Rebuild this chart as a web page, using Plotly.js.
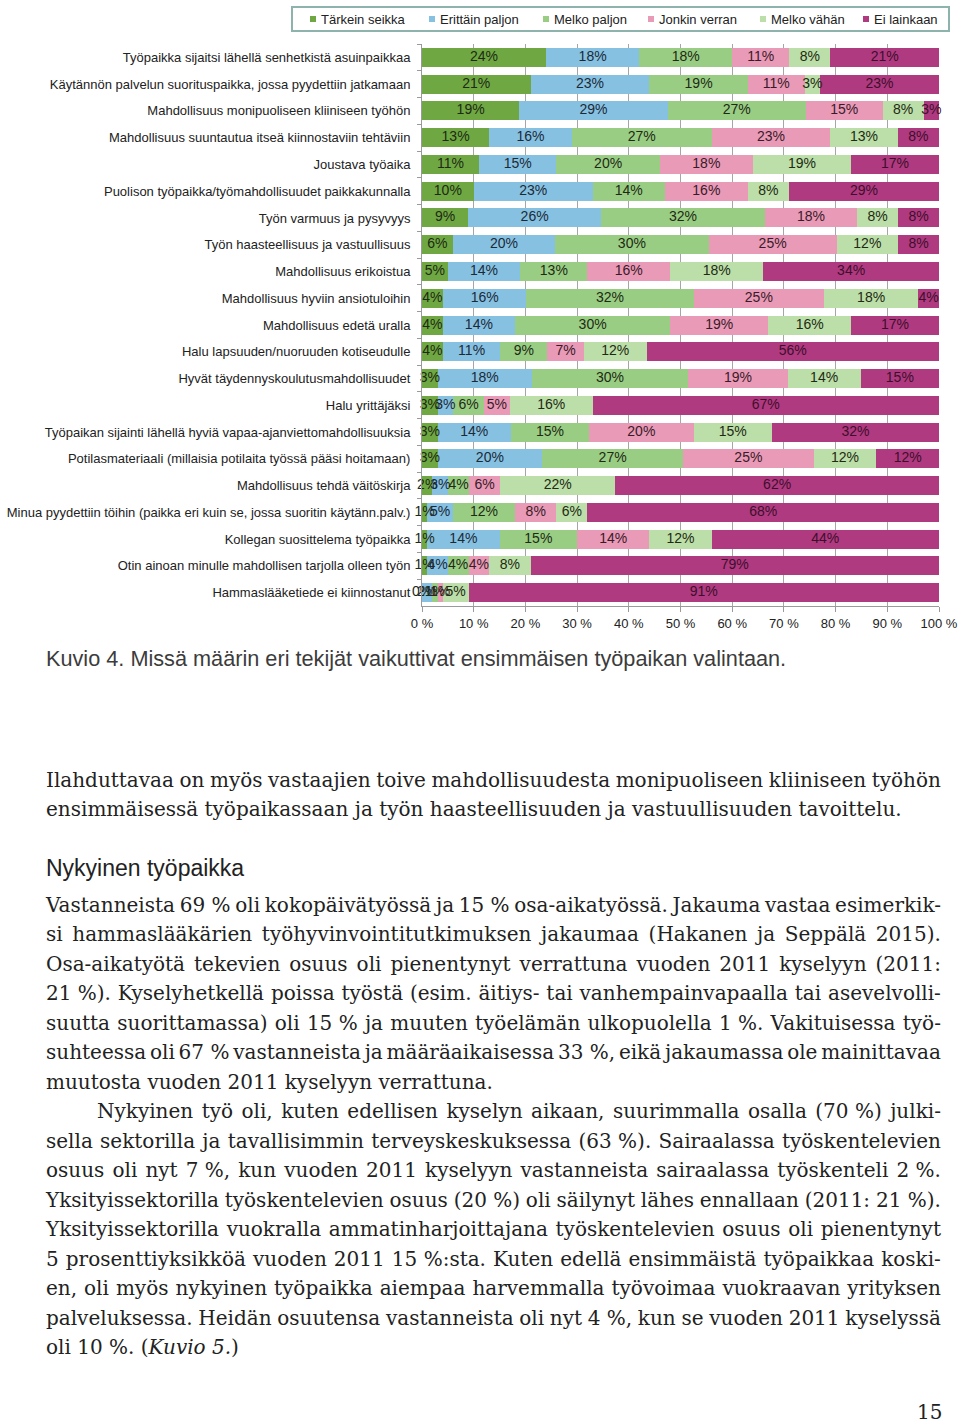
<!DOCTYPE html>
<html>
<head>
<meta charset="utf-8">
<script src="https://cdn.plot.ly/plotly-3.0.1.min.js"></script>
<style>
  html, body { margin:0; padding:0; background:#fff; }
  body { width:960px; height:1425px; position:relative; overflow:hidden; }
  #chart { position:absolute; left:0; top:0; width:960px; height:640px; }
  .caption { position:absolute; left:46px; top:645px; font-family:"Liberation Sans", Arial, sans-serif; font-size:21.7px; color:#3c3c3c; white-space:nowrap; line-height:28px; }
  .heading { position:absolute; left:46px; top:853px; font-family:"Liberation Sans", Arial, sans-serif; font-size:23px; color:#222; line-height:30px; white-space:nowrap; }
  .ln { position:absolute; left:46px; width:895px; font-family:"DejaVu Serif", serif; font-size:20px; color:#222; line-height:29.5px; height:29.5px; white-space:nowrap; }
  .ln.j { display:flex; justify-content:space-between; }
  .pnum { position:absolute; left:917px; top:1398px; font-family:"DejaVu Serif", serif; font-size:20px; color:#222; line-height:28px; }
</style>
</head>
<body>
<div id="chart"></div>
<div class="caption">Kuvio 4. Missä määrin eri tekijät vaikuttivat ensimmäisen työpaikan valintaan.</div>
<div class="heading">Nykyinen työpaikka</div>
<div id="text"></div>
<div class="pnum">15</div>
<script>
const categories = [
  "Työpaikka sijaitsi lähellä senhetkistä asuinpaikkaa",
  "Käytännön palvelun suorituspaikka, jossa pyydettiin jatkamaan",
  "Mahdollisuus monipuoliseen kliiniseen työhön",
  "Mahdollisuus suuntautua itseä kiinnostaviin tehtäviin",
  "Joustava työaika",
  "Puolison työpaikka/työmahdollisuudet paikkakunnalla",
  "Työn varmuus ja pysyvyys",
  "Työn haasteellisuus ja vastuullisuus",
  "Mahdollisuus erikoistua",
  "Mahdollisuus hyviin ansiotuloihin",
  "Mahdollisuus edetä uralla",
  "Halu lapsuuden/nuoruuden kotiseudulle",
  "Hyvät täydennyskoulutusmahdollisuudet",
  "Halu yrittäjäksi",
  "Työpaikan sijainti lähellä hyviä vapaa-ajanviettomahdollisuuksia",
  "Potilasmateriaali (millaisia potilaita työssä pääsi hoitamaan)",
  "Mahdollisuus tehdä väitöskirja",
  "Minua pyydettiin töihin (paikka eri kuin se, jossa suoritin käytänn.palv.)",
  "Kollegan suosittelema työpaikka",
  "Otin ainoan minulle mahdollisen tarjolla olleen työn",
  "Hammaslääketiede ei kiinnostanut"
];
const seriesNames = ["Tärkein seikka","Erittäin paljon","Melko paljon","Jonkin verran","Melko vähän","Ei lainkaan"];
const tarkein   = [24,21,19,13,11,10, 9, 6, 5, 4, 4, 4, 3, 3, 3, 3, 2, 1, 1, 1, 0];
const erittain  = [18,23,29,16,15,23,26,20,14,16,14,11,18, 3,14,20, 3, 5,14, 4, 2];
const melkoPal  = [18,19,27,27,20,14,32,30,13,32,30, 9,30, 6,15,27, 4,12,15, 4, 1];
const jonkin    = [11,11,15,23,18,16,18,25,16,25,19, 7,19, 5,20,25, 6, 8,14, 4, 1];
const melkoVah  = [ 8, 3, 8,13,19, 8, 8,12,18,18,16,12,14,16,15,12,22, 6,12, 8, 5];
const eiLain    = [21,23, 3, 8,17,29, 8, 8,34, 4,17,56,15,67,32,12,62,68,44,79,91];
const xTickVals = [0,10,20,30,40,50,60,70,80,90,100];
const xTickText = ["0 %","10 %","20 %","30 %","40 %","50 %","60 %","70 %","80 %","90 %","100 %"];

const series = [tarkein, erittain, melkoPal, jonkin, melkoVah, eiLain];
const colors = ["#6fa843","#87c1e2","#9acd84","#e89ab7","#bcdea8","#b03a80"];
const textColors = ["#1e2a14","#1c2a36","#1e2a14","#3a1a28","#1e2a14","#3d0f2c"];
const FONT = "Liberation Sans, Arial, sans-serif";

const L = 422, R = 939, T = 44, B = 606;
const px = x => (x - L) / (R - L);
const py = y => (B - y) / (B - T);

const traces = [];
series.forEach((vals, i) => {
  traces.push({
    type:"bar", orientation:"h", name:seriesNames[i],
    x: vals, y: categories,
    marker:{color:colors[i], line:{width:0}},
    hoverinfo:"skip", showlegend:false
  });
});
const totals = categories.map((c, r) => series.reduce((s, v) => s + v[r], 0));
series.forEach((vals, i) => {
  const xs = vals.map((v, r) => {
    let cum = 0;
    for (let k = 0; k < i; k++) cum += series[k][r];
    return (cum + v / 2) / totals[r] * 100;
  });
  traces.push({
    type:"scatter", mode:"text", x: xs, y: categories,
    text: vals.map(v => v + "%"),
    textposition:"middle center",
    textfont:{family:FONT, size:14, color:textColors[i]},
    showlegend:false, hoverinfo:"skip", cliponaxis:false
  });
});

const legMarkX = [313, 432, 546, 651, 763, 866];
const legY = 19;
const shapes = [{
  type:"rect", xref:"paper", yref:"paper",
  x0:px(292), x1:px(949), y0:py(7), y1:py(31),
  line:{color:"#8db3ac", width:2}, fillcolor:"rgba(0,0,0,0)"
}];
const annotations = [];
seriesNames.forEach((n, i) => {
  shapes.push({
    type:"rect", xref:"paper", yref:"paper",
    x0:px(legMarkX[i]-3), x1:px(legMarkX[i]+3), y0:py(legY+3), y1:py(legY-3),
    line:{width:0}, fillcolor:colors[i]
  });
  annotations.push({
    xref:"paper", yref:"paper", x:px(legMarkX[i]+6), y:py(legY),
    xanchor:"left", yanchor:"middle", showarrow:false, text:n,
    font:{family:FONT, size:13, color:"#222"}
  });
});

const layout = {
  width:960, height:640,
  margin:{l:L, r:960-R, t:T, b:640-B},
  paper_bgcolor:"#fff", plot_bgcolor:"#fff",
  barmode:"stack", barnorm:"percent", bargap:0.29,
  font:{family:FONT, color:"#222"},
  showlegend:false,
  shapes, annotations,
  xaxis:{
    range:[0,100], tickvals:xTickVals, ticktext:xTickText,
    showgrid:true, gridcolor:"#a6a6a6", gridwidth:1,
    showline:true, linecolor:"#9a9a9a", linewidth:1,
    ticks:"outside", ticklen:5, tickcolor:"#9a9a9a",
    tickfont:{family:FONT, size:13, color:"#222"}, zeroline:false, fixedrange:true
  },
  yaxis:{
    type:"category", categoryorder:"array", categoryarray:categories,
    range:[categories.length - 0.5, -0.5], autorange:false,
    showline:true, linecolor:"#9a9a9a", linewidth:1,
    ticks:"outside", ticklen:4, tickcolor:"#9a9a9a", tickson:"boundaries",
    tickfont:{family:FONT, size:13, color:"#222"}, ticklabelstandoff:8, fixedrange:true
  }
};
Plotly.newPlot("chart", traces, layout, {displayModeBar:false, staticPlot:true});

const paragraphs = [
  {top:765.5, lines:[
    "Ilahduttavaa on myös vastaajien toive mahdollisuudesta monipuoliseen kliiniseen työhön",
    "ensimmäisessä työpaikassaan ja työn haasteellisuuden ja vastuullisuuden tavoittelu."
  ]},
  {top:890.5, lines:[
    "Vastanneista 69 % oli kokopäivätyössä ja 15 % osa-aikatyössä. Jakauma vastaa esimerkik-",
    "si hammaslääkärien työhyvinvointitutkimuksen jakaumaa (Hakanen ja Seppälä 2015).",
    "Osa-aikatyötä tekevien osuus oli pienentynyt verrattuna vuoden 2011 kyselyyn (2011:",
    "21 %). Kyselyhetkellä poissa työstä (esim. äitiys- tai vanhempainvapaalla tai asevelvolli-",
    "suutta suorittamassa) oli 15 % ja muuten työelämän ulkopuolella 1 %. Vakituisessa työ-",
    "suhteessa oli 67 % vastanneista ja määräaikaisessa 33 %, eikä jakaumassa ole mainittavaa",
    "muutosta vuoden 2011 kyselyyn verrattuna.",
    "Nykyinen työ oli, kuten edellisen kyselyn aikaan, suurimmalla osalla (70 %) julki-",
    "sella sektorilla ja tavallisimmin terveyskeskuksessa (63 %). Sairaalassa työskentelevien",
    "osuus oli nyt 7 %, kun vuoden 2011 kyselyyn vastanneista sairaalassa työskenteli 2 %.",
    "Yksityissektorilla työskentelevien osuus (20 %) oli säilynyt lähes ennallaan (2011: 21 %).",
    "Yksityissektorilla vuokralla ammatinharjoittajana työskentelevien osuus oli pienentynyt",
    "5 prosenttiyksikköä vuoden 2011 15 %:sta. Kuten edellä ensimmäistä työpaikkaa koski-",
    "en, oli myös nykyinen työpaikka aiempaa harvemmalla työvoimaa vuokraavan yrityksen",
    "palveluksessa. Heidän osuutensa vastanneista oli nyt 4 %, kun se vuoden 2011 kyselyssä",
    "oli 10 %. (<i>Kuvio 5.</i>)"
  ]}
];
const lastLines = new Set([
  "ensimmäisessä työpaikassaan ja työn haasteellisuuden ja vastuullisuuden tavoittelu.",
  "muutosta vuoden 2011 kyselyyn verrattuna.",
  "oli 10 %. (<i>Kuvio 5.</i>)"
]);
const indented = new Set(["Nykyinen työ oli, kuten edellisen kyselyn aikaan, suurimmalla osalla (70 %) julki-"]);
const host = document.getElementById("text");
const pitch = 29.5;
paragraphs.forEach(p => {
  p.lines.forEach((line, i) => {
    const d = document.createElement("div");
    d.className = "ln";
    d.style.top = (p.top + i * pitch) + "px";
    if (indented.has(line)) { d.style.left = "97px"; d.style.width = "844px"; }
    if (lastLines.has(line)) {
      d.innerHTML = line;
    } else {
      d.classList.add("j");
      const words = line.replace(/ %/g, "\u00a0%").split(" ");
      words.forEach(w => { const s = document.createElement("span"); s.textContent = w; d.appendChild(s); });
    }
    host.appendChild(d);
  });
});
</script>
</body>
</html>
